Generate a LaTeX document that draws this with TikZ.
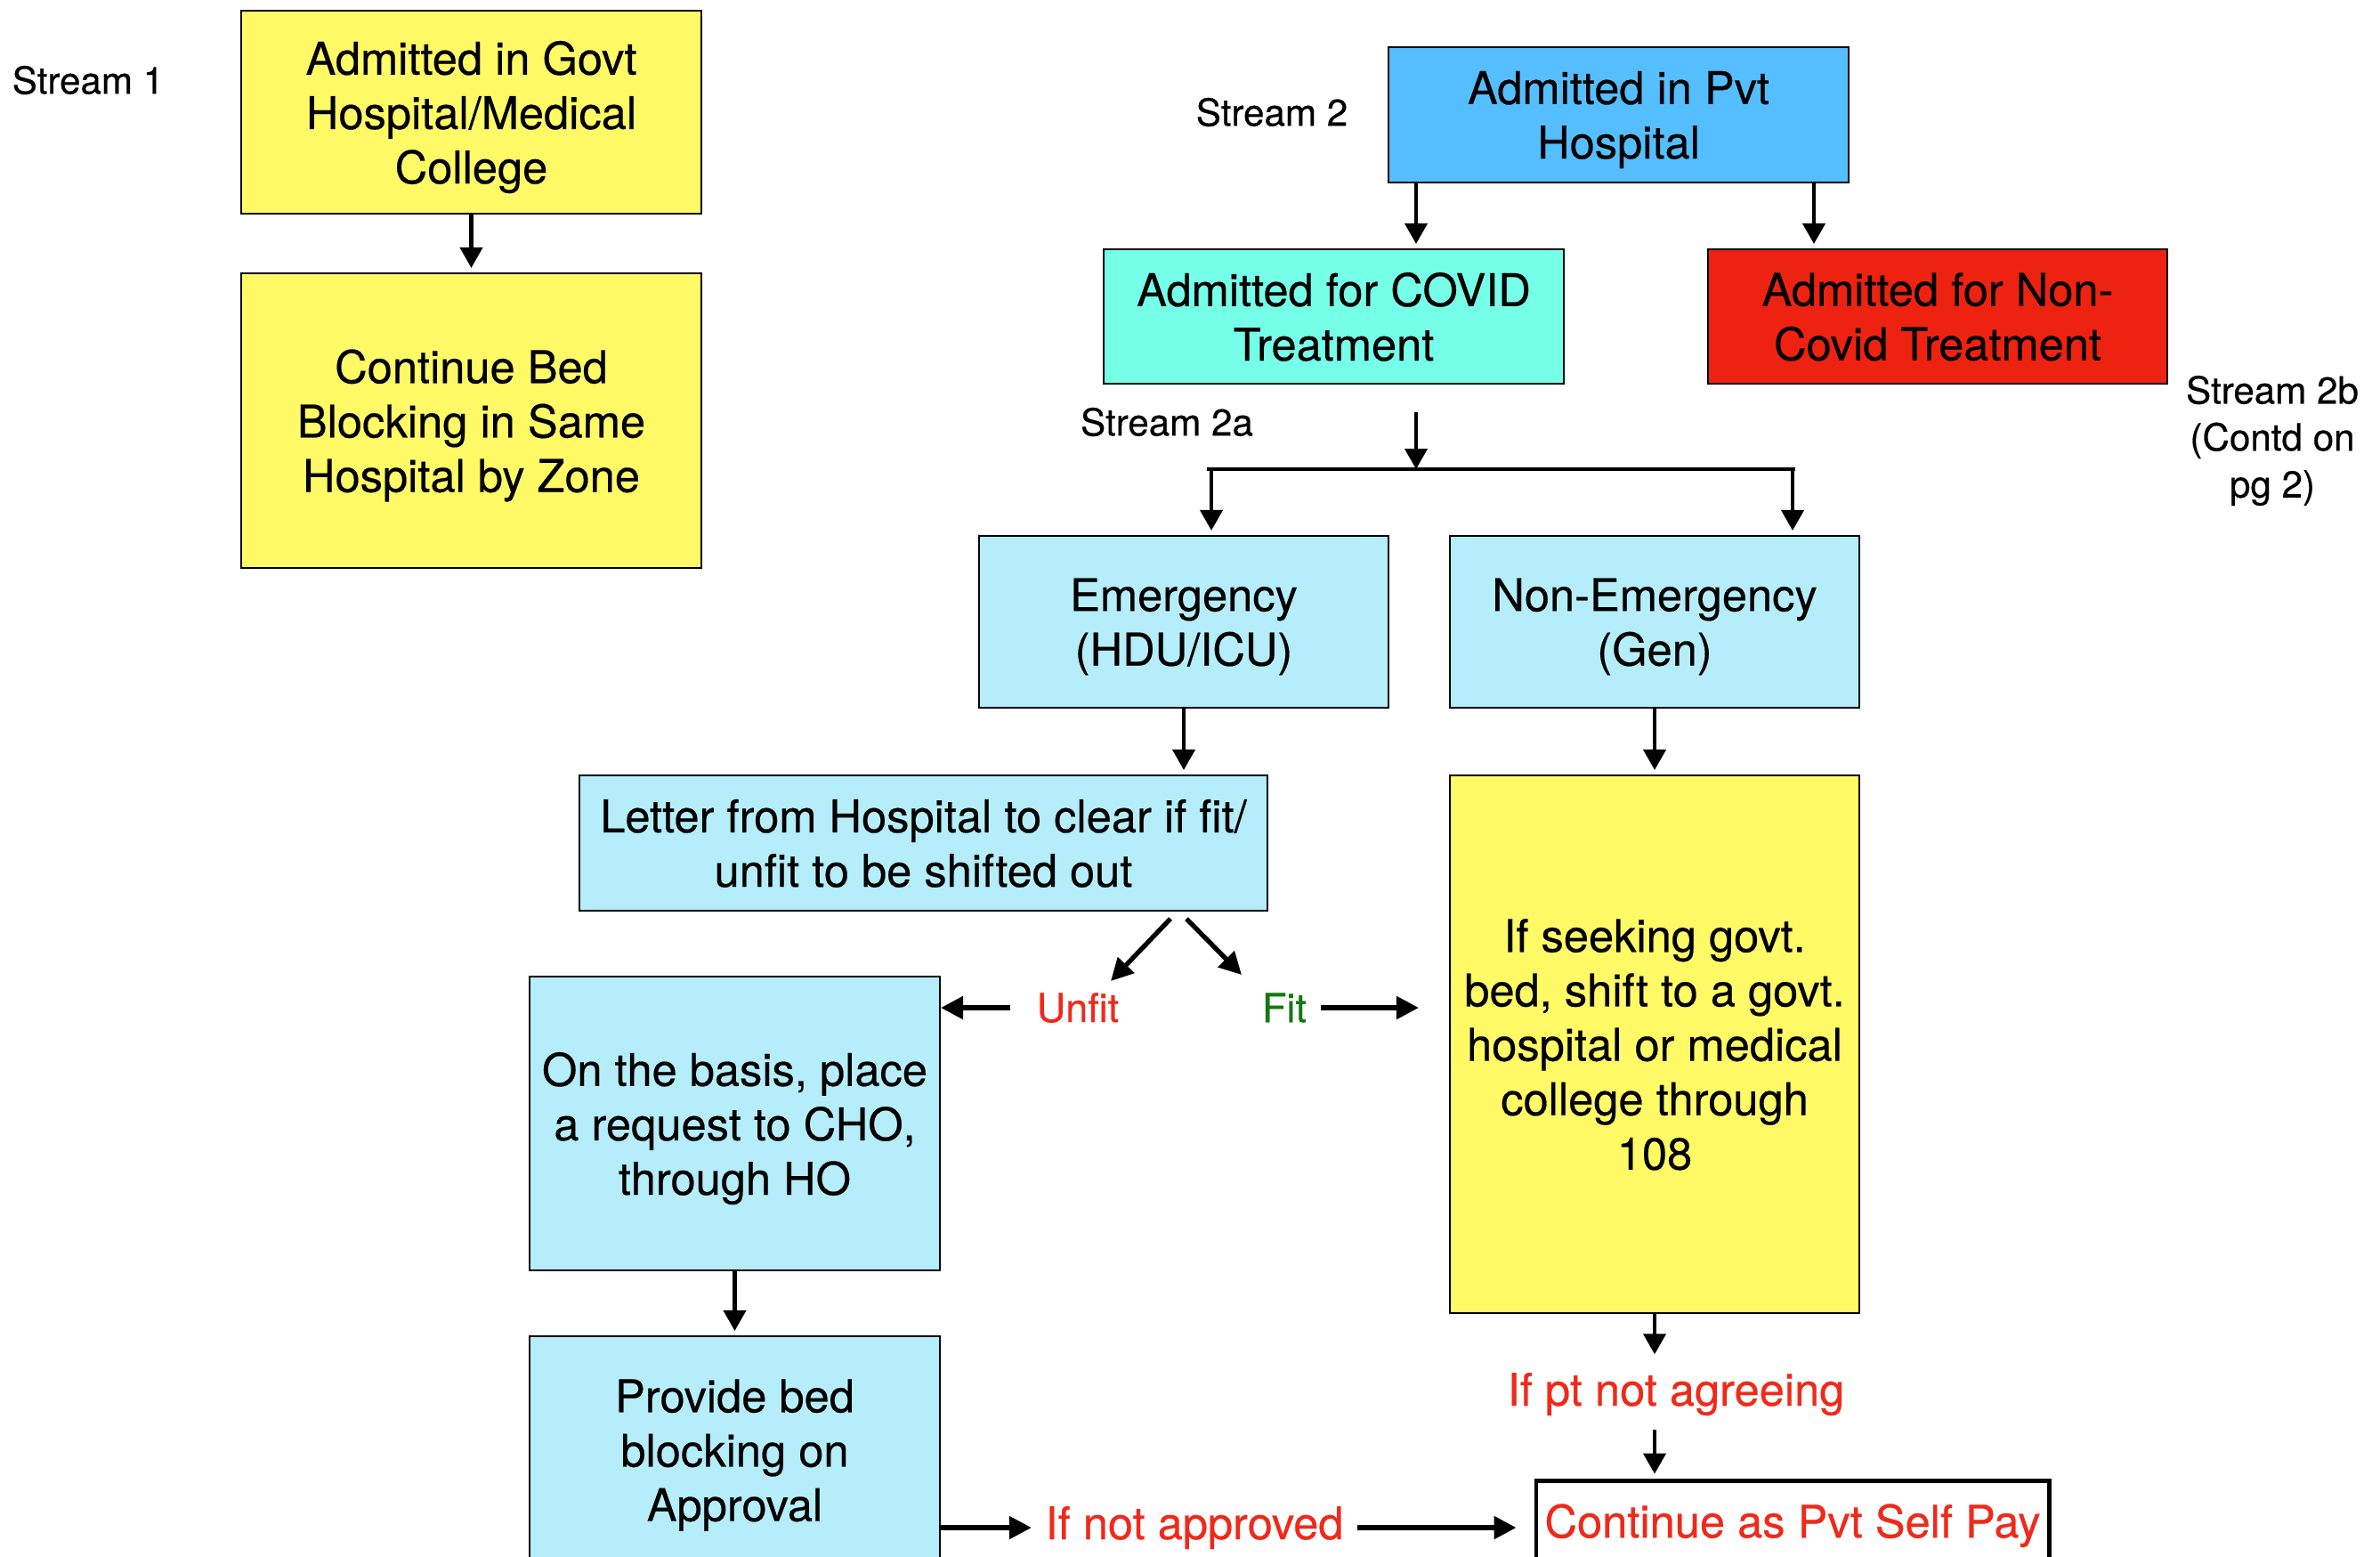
\documentclass[tikz,border=0pt]{standalone}
\usepackage{fontspec}
\setmainfont{TeX Gyre Heros}[FakeBold=0.4]
\usetikzlibrary{arrows.meta}
\definecolor{govtyellow}{HTML}{FFFA66}
\definecolor{pvtblue}{HTML}{55BEFF}
\definecolor{covidcyan}{HTML}{76FFE8}
\definecolor{noncovidred}{HTML}{EE2210}
\definecolor{paleblue}{HTML}{B5EEFA}
\definecolor{warnred}{HTML}{EE2A1B}
\definecolor{okgreen}{HTML}{117A11}

\begin{document}
\begin{tikzpicture}[box/.style={draw,line width=0.6pt,inner sep=0pt,align=center,font=\fontsize{14.4}{17.4}\selectfont},
    tag/.style={align=center,inner sep=0.15cm,font=\fontsize{12}{15}\selectfont},
    choice/.style={inner sep=0.15cm,font=\fontsize{12.8}{15}\selectfont},
    cond/.style={inner sep=0.15cm,text=warnred,font=\fontsize{14.4}{17.4}\selectfont},
    arr/.style={line width=1.15pt,shorten >=0.05cm,-{Triangle[length=0.23cm,width=0.25cm]}},
    fatarr/.style={line width=1.5pt,-{Triangle[length=0.25cm,width=0.25cm]}}]
\useasboundingbox (0,0) rectangle (26.74,-17.48);
    \node[box,fill=govtyellow,text depth=-2.8pt,minimum width=5.17cm,minimum height=2.28cm] (govt) at (5.295,-1.26) {Admitted in Govt\\Hospital/Medical\\College};
    \node[box,fill=govtyellow,text depth=-2.8pt,minimum width=5.17cm,minimum height=3.31cm] (samebed) at (5.295,-4.725) {Continue Bed\\Blocking in Same\\Hospital by Zone};
    \node[box,fill=pvtblue,text depth=-1pt,minimum width=5.17cm,minimum height=1.52cm] (pvt) at (18.185,-1.29) {Admitted in Pvt\\Hospital};
    \node[box,fill=covidcyan,text depth=-1.1pt,minimum width=5.17cm,minimum height=1.51cm] (covid) at (14.985,-3.555) {Admitted for COVID\\Treatment};
    \node[box,fill=noncovidred,text depth=-1.1pt,minimum width=5.16cm,minimum height=1.51cm] (noncovid) at (21.77,-3.555) {Admitted for Non-\\Covid Treatment};
    \node[box,fill=paleblue,text depth=-1.8pt,minimum width=4.6cm,minimum height=1.93cm] (emerg) at (13.30,-6.985) {Emergency\\(HDU/ICU)};
    \node[box,fill=paleblue,text depth=-1.8pt,minimum width=4.6cm,minimum height=1.93cm] (nonemerg) at (18.59,-6.985) {Non-Emergency\\(Gen)};
    \node[box,fill=paleblue,text depth=-2pt,minimum width=7.73cm,minimum height=1.52cm] (letter) at (10.375,-9.47) {Letter from Hospital to clear if fit/\\unfit to be shifted out};
    \node[box,fill=govtyellow,text depth=-2pt,minimum width=4.6cm,minimum height=6.04cm] (seek) at (18.59,-11.73) {If seeking govt.\\bed, shift to a govt.\\hospital or medical\\college through\\108};
    \node[box,fill=paleblue,text depth=-1.8pt,minimum width=4.61cm,minimum height=3.3cm] (basis) at (8.255,-12.62) {On the basis, place\\a request to CHO,\\through HO};
    \node[box,fill=paleblue,text depth=0pt,minimum width=4.61cm,minimum height=2.56cm] (provide) at (8.255,-16.29) {Provide bed\\blocking on\\Approval};
    \node[box,fill=white,text=warnred,line width=1.4pt,text depth=1pt,minimum width=5.76cm,minimum height=0.94cm] (selfpay) at (20.14,-17.10) {Continue as Pvt Self Pay};

    \node[tag] (s1) at (0.99,-0.90) {Stream 1};
    \node[tag] (s2) at (14.29,-1.26) {Stream 2};
    \node[tag] (s2a) at (13.11,-4.74) {Stream 2a};
    \node[tag] (s2b) at (25.53,-4.95) {Stream 2b\\(Contd on\\pg 2)};
    \node[choice,text=warnred] (unfit) at (12.11,-11.32) {Unfit};
    \node[choice,text=okgreen] (fit) at (14.43,-11.32) {Fit};
    \node[cond] (agree) at (18.83,-15.66) {If pt not agreeing};
    \node[cond] (notappr) at (13.42,-17.16) {If not approved};

    \coordinate (fork) at (15.91,-5.27);
    \coordinate (forkL) at (13.61,-5.27);
    \coordinate (forkR) at (20.14,-5.27);
    \coordinate (split) at (13.24,-10.32);

    \draw[arr] (govt) -- (samebed);
    \draw[arr] ([xshift=-2.275cm]pvt.south) -- ([xshift=-2.275cm]pvt.south |- covid.north);
    \draw[arr] ([xshift=2.195cm]pvt.south) -- ([xshift=2.195cm]pvt.south |- noncovid.north);
    \draw[arr,shorten <=0.31cm,shorten >=0pt] (fork |- covid.south) -- (fork);
    \draw[line width=1.3pt] ([xshift=-0.05cm]forkL) -- ([xshift=0.03cm]forkR);
    \draw[arr] (forkL) -- (forkL |- emerg.north);
    \draw[arr] (forkR) -- (forkR |- nonemerg.north);
    \draw[arr] (emerg.south) -- (emerg.south |- letter.north);
    \draw[arr] (nonemerg) -- (seek);
    \draw[fatarr] ([xshift=-0.09cm]split) -- ([shift={(0.37,0.30)}]unfit.center);
    \draw[fatarr] ([xshift=0.09cm]split) -- ([shift={(-0.48,0.37)}]fit.center);
    \draw[fatarr,shorten <=0.14cm] (unfit.west) -- (unfit.west -| basis.east);
    \draw[fatarr,shorten >=0.34cm] (fit.east) -- (fit.east -| seek.west);
    \draw[arr] (basis) -- (provide);
    \draw[arr] (seek.south) -- (seek.south |- agree.north);
    \draw[arr] (seek.south |- agree.south) -- (seek.south |- selfpay.north);
    \draw[fatarr] (notappr.west -| provide.east) -- (notappr.west);
    \draw[fatarr,shorten >=0.2cm] (notappr.east) -- (notappr.east -| selfpay.west);
\end{tikzpicture}
\end{document}
